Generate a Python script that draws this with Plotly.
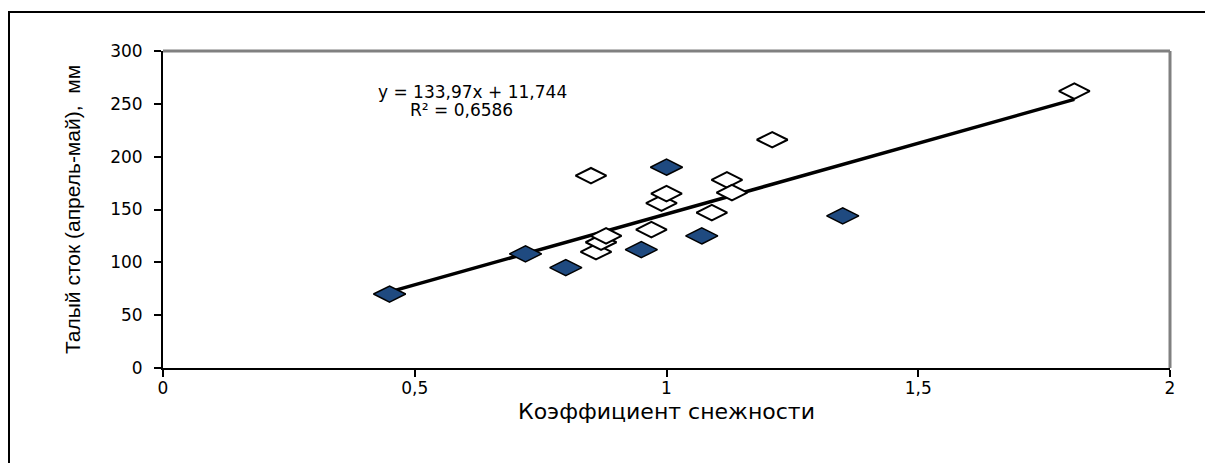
import plotly.graph_objects as go

# Filled points (blue)
x_filled = [0.45, 0.72, 0.80, 0.95, 1.07, 1.00, 1.35]
y_filled = [70, 108, 95, 112, 125, 190, 144]

# Open points (white diamonds)
x_open = [0.86, 0.87, 0.88, 0.85, 0.97, 0.99, 1.00, 1.09, 1.12, 1.13, 1.21, 1.81]
y_open = [110, 119, 125, 182, 131, 156, 165, 147, 178, 166, 216, 262]

# Trend line coefficients (from chart)
slope = 133.97
intercept = 11.744
r2_text = "R² = 0,6586"
eq_text = "y = 133,97x + 11,744"

x_ticks = [0, 0.5, 1, 1.5, 2]
x_tick_labels = ["0", "0,5", "1", "1,5", "2"]
y_ticks = [0, 50, 100, 150, 200, 250, 300]

all_x = x_filled + x_open
x_line = [min(all_x), max(all_x)]
y_line = [slope * v + intercept for v in x_line]

FONT = "Liberation Sans, Arial, sans-serif"
WFONT = "DejaVu Sans, Verdana, sans-serif"

fig = go.Figure()
fig.add_trace(go.Scatter(x=x_line, y=y_line, mode="lines",
                         line=dict(color="black", width=3.5), showlegend=False, hoverinfo="skip"))
fig.add_trace(go.Scatter(x=x_open, y=y_open, mode="markers",
                         marker=dict(symbol="diamond-wide", size=22, color="white",
                                     line=dict(color="black", width=2)), showlegend=False))
fig.add_trace(go.Scatter(x=x_filled, y=y_filled, mode="markers",
                         marker=dict(symbol="diamond-wide", size=23, color="#1F4A80",
                                     line=dict(color="black", width=1.5)), showlegend=False))

# page body has an 8px margin; figure pixels = page pixels - 8
OFF = 8
W, H = 1213 - OFF, 463 - OFF
L, T = 163 - OFF, 51 - OFF
pw, ph = 1007, 317
R = W - L - pw
B = H - T - ph

def px_x(p):
    return (p - OFF - L) / pw

def px_y(p):
    return (T + ph - (p - OFF)) / ph

shapes = [
    # outer chart border (top & left visible)
    dict(type="line", xref="paper", yref="paper", x0=px_x(8), x1=px_x(1213), y0=px_y(12), y1=px_y(12),
         line=dict(color="black", width=2)),
    dict(type="line", xref="paper", yref="paper", x0=px_x(9), x1=px_x(9), y0=px_y(12), y1=px_y(463),
         line=dict(color="black", width=2)),
    # plot area gray top & right
    dict(type="line", xref="paper", yref="paper", x0=0, x1=1, y0=1, y1=1,
         line=dict(color="#808080", width=3)),
    dict(type="line", xref="paper", yref="paper", x0=1, x1=1, y0=0, y1=1,
         line=dict(color="#808080", width=3)),
]

fig.update_layout(
    width=W, height=H,
    margin=dict(l=L, r=R, t=T, b=B),
    paper_bgcolor="white", plot_bgcolor="white",
    font=dict(family=FONT, color="black"),
    shapes=shapes,
    annotations=[
        dict(x=0.614, y=261, xref="x", yref="y", text=eq_text, showarrow=False,
             font=dict(size=17, family=WFONT, color="black")),
        dict(x=0.592, y=244, xref="x", yref="y", text=r2_text, showarrow=False,
             font=dict(size=17, family=WFONT, color="black")),
    ],
    xaxis=dict(range=[0, 2], tickvals=x_ticks, ticktext=x_tick_labels,
               showgrid=False, zeroline=False, showline=True, linecolor="black", linewidth=2,
               ticks="outside", ticklen=7, tickcolor="black", tickwidth=1.5,
               ticklabelstandoff=-3,
               tickfont=dict(size=17, family=WFONT, color="black"),
               title=dict(text="Коэффициент снежности", font=dict(size=22, family=WFONT, color="black"),
                          standoff=6)),
    yaxis=dict(range=[0, 300], tickvals=y_ticks,
               showgrid=False, zeroline=False, showline=True, linecolor="black", linewidth=2,
               ticks="outside", ticklen=7, tickcolor="black", tickwidth=1.5,
               ticklabelstandoff=8,
               tickfont=dict(size=17, family=WFONT, color="black"),
               title=dict(text="Талый сток (апрель-май),  мм", font=dict(size=21, family=FONT, color="black"),
                          standoff=24)),
)

fig.write_html("out.html")
